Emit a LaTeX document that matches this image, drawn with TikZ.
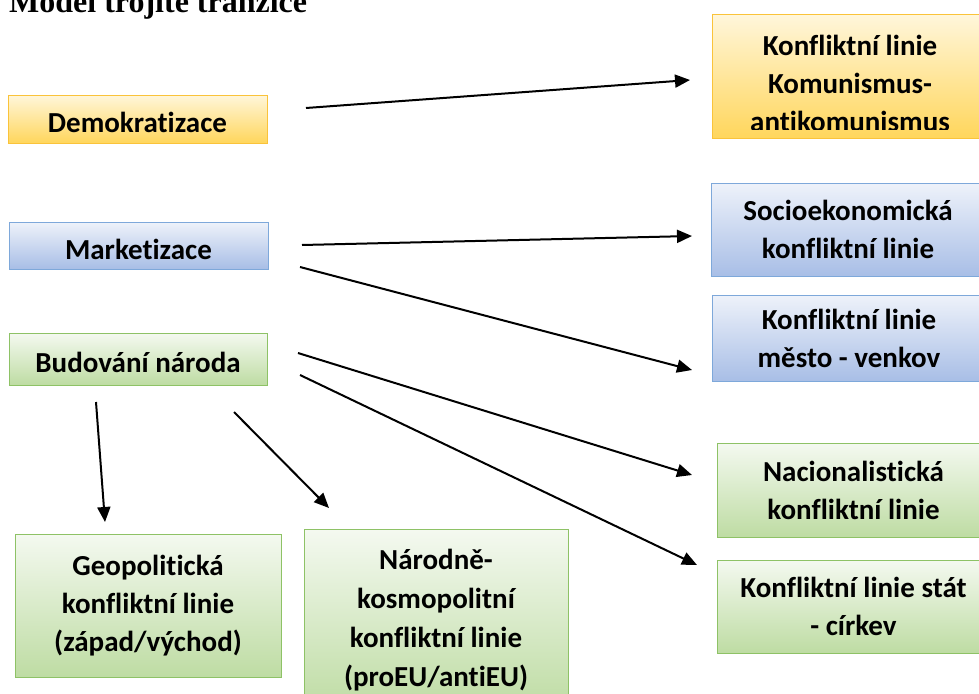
\documentclass[tikz,border=0pt]{standalone}
\usepackage{fontspec}
\setmainfont{Carlito}[Ligatures=NoCommon]
\newfontfamily\titlefont{Liberation Serif}
\usetikzlibrary{arrows.meta,positioning}

\definecolor{yelTop}{HTML}{FFF6DA}
\definecolor{yelBot}{HTML}{FFD65C}
\definecolor{yelLine}{HTML}{FAC33A}
\definecolor{bluTop}{HTML}{EEF2FA}
\definecolor{bluBot}{HTML}{A8BEE6}
\definecolor{bluLine}{HTML}{7EA8DA}
\definecolor{grnTop}{HTML}{F4F9F0}
\definecolor{grnBot}{HTML}{BEDCA3}
\definecolor{grnLine}{HTML}{8EC266}

\tikzset{
	box/.style={draw, line width=1pt, inner sep=0pt, align=center,
		font=\bfseries\fontsize{29}{38}\selectfont},
	yelbox/.style={box, draw=yelLine, top color=yelTop, bottom color=yelBot},
	blubox/.style={box, draw=bluLine, top color=bluTop, bottom color=bluBot},
	grnbox/.style={box, draw=grnLine, top color=grnTop, bottom color=grnBot},
	oneline/.style={text height=27pt, text depth=0pt},
	arr/.style={-{Triangle[length=15pt,width=13pt]}, line width=2pt},
}

\begin{document}
\begin{tikzpicture}[x=1pt,y=-1pt]
	\useasboundingbox (0,0) rectangle (979,693);

	\node[anchor=base west, inner sep=0pt, font=\titlefont\bfseries\fontsize{32}{32}\selectfont] (title) at (9,13) {Model trojité tranzice};

	% left column
	\node[yelbox, oneline, minimum width=259pt, minimum height=48pt] (demo) at (137.5,119) {Demokratizace};
	\node[blubox, oneline, minimum width=259pt, minimum height=47pt] (market) at (138.5,245.5) {Marketizace};
	\node[grnbox, oneline, minimum width=258pt, minimum height=52pt] (narod) at (138,359) {Budování národa};

	% right column
	\node[yelbox, minimum width=276pt, minimum height=123pt] (komun) at (850,76.5) {};
	\begin{scope}
		\clip (700,20) rectangle (990,129);
		\node[box, draw=none] (komuntxt) at (850,83) {Konfliktní linie\\Komunismus-\\antikomunismus};
	\end{scope}
	\node[blubox, minimum width=274pt, minimum height=93pt] (socio) at (848,229.5) {Socioekonomická\\konfliktní linie};
	\node[blubox, minimum width=274pt, minimum height=86pt] (mesto) at (849,338) {Konfliktní linie\\město - venkov};
	\node[grnbox, minimum width=273pt, minimum height=94pt] (nacio) at (853.5,490) {Nacionalistická\\konfliktní linie};
	\node[grnbox, minimum width=273pt, minimum height=93pt] (stat) at (853.5,606.5) {Konfliktní linie stát\\- církev};

	% bottom row
	\node[grnbox, minimum width=266pt, minimum height=143pt] (geo) at (148,605.5) {Geopolitická\\konfliktní linie\\(západ/východ)};
	\node[grnbox, minimum width=264pt, minimum height=181pt, font=\bfseries\fontsize{29}{39}\selectfont] (kosmo) at (436,620) {Národně-\\kosmopolitní\\konfliktní linie\\(proEU/antiEU)};

	% arrow ends
	\coordinate (demoOut) at (306,108);
	\coordinate (komunIn) at (690,80);
	\coordinate (marketOut1) at (302,245);
	\coordinate (socioIn) at (692,236);
	\coordinate (marketOut2) at (300,267);
	\coordinate (mestoIn) at (692,370);
	\coordinate (narodOut1) at (298,353);
	\coordinate (nacioIn) at (692,475);
	\coordinate (narodOut2) at (300,375);
	\coordinate (statIn) at (697,565);
	\coordinate (narodOut3) at (96,402);
	\coordinate (geoIn) at (105,522);
	\coordinate (narodOut4) at (234,412);
	\coordinate (kosmoIn) at (329,508);

	\draw[arr] (demoOut) -- (komunIn);
	\draw[arr] (marketOut1) -- (socioIn);
	\draw[arr] (marketOut2) -- (mestoIn);
	\draw[arr] (narodOut1) -- (nacioIn);
	\draw[arr] (narodOut2) -- (statIn);
	\draw[arr] (narodOut3) -- (geoIn);
	\draw[arr] (narodOut4) -- (kosmoIn);
\end{tikzpicture}
\end{document}
